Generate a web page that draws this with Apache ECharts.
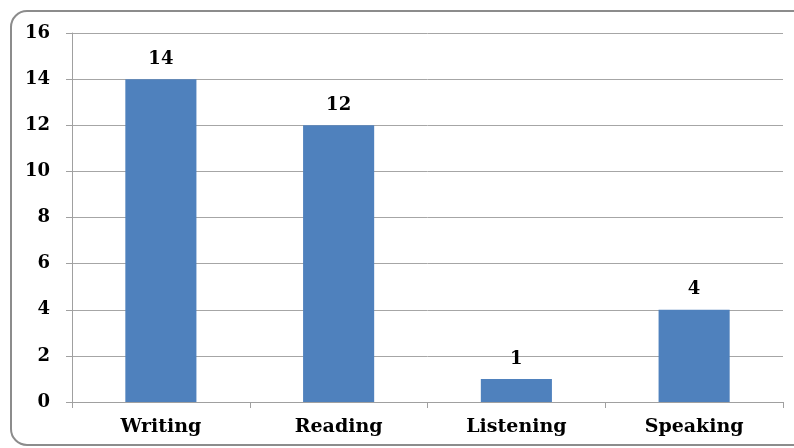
<!DOCTYPE html>
<html>
<head>
<meta charset="utf-8">
<script src="https://cdn.jsdelivr.net/npm/echarts@6/dist/echarts.min.js"></script>
<style>
  html, body { margin: 0; padding: 0; background: #fff; }
  #chart { width: 794px; height: 448px; }
</style>
</head>
<body>
<div id="chart"></div>
<script>
// skills and counts
const categories = ['Writing', 'Reading', 'Listening', 'Speaking']
const counts = [14, 12, 1, 4]

const yMin = 0
const yMax = 16
const yStep = 2

const fontFamily = '"DejaVu Serif", "Liberation Serif", serif'

const chart = echarts.init(document.getElementById('chart'))

chart.setOption({
  animation: false,
  graphic: [{
    type: 'rect',
    shape: { x: 11, y: 11, width: 800, height: 434, r: 16 },
    style: { fill: 'none', stroke: '#8c8c8c', lineWidth: 2 },
    silent: true
  }],
  grid: {
    left: 72,
    right: 11,
    top: 33,
    bottom: 46
  },
  xAxis: {
    type: 'category',
    data: categories,
    axisLine: { lineStyle: { color: '#a0a0a0', width: 1 } },
    axisTick: { show: true, length: 6, lineStyle: { color: '#a0a0a0' } },
    axisLabel: {
      margin: 16,
      color: '#000',
      fontFamily: fontFamily,
      fontWeight: 'bold',
      fontSize: 19
    }
  },
  yAxis: {
    type: 'value',
    min: yMin,
    max: yMax,
    interval: yStep,
    axisLine: { show: true, lineStyle: { color: '#a0a0a0', width: 1 } },
    axisTick: { show: true, length: 6, lineStyle: { color: '#a0a0a0' } },
    splitLine: { lineStyle: { color: '#a6a6a6', width: 1 } },
    axisLabel: {
      margin: 22,
      color: '#000',
      fontFamily: fontFamily,
      fontWeight: 'bold',
      fontSize: 18
    }
  },
  series: [{
    type: 'bar',
    data: counts,
    barWidth: '40%',
    itemStyle: { color: '#4f81bd' },
    label: {
      show: true,
      position: 'top',
      distance: 11,
      color: '#000',
      fontFamily: fontFamily,
      fontWeight: 'bold',
      fontSize: 18
    }
  }]
})
</script>
</body>
</html>
